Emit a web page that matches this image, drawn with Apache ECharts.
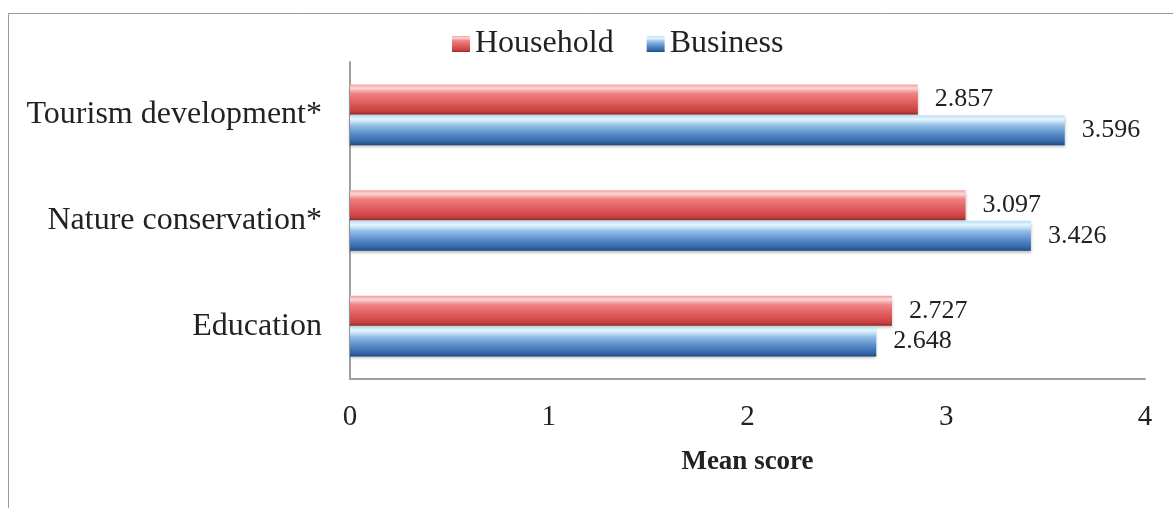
<!DOCTYPE html>
<html>
<head>
<meta charset="utf-8">
<script src="https://cdn.jsdelivr.net/npm/echarts@6/dist/echarts.min.js"></script>
<style>
  html, body { margin: 0; padding: 0; background: #fff; }
  #chart { width: 1173px; height: 508px; }
</style>
</head>
<body>
<div id="chart"></div>
<script>
// Categories listed bottom-to-top along the value axis
const categories = ['Education', 'Nature conservation*', 'Tourism development*'];
const household = [2.727, 3.097, 2.857];
const business = [2.648, 3.426, 3.596];
const xTicks = [0, 1, 2, 3, 4];

const FONT = '"Liberation Serif", "Times New Roman", serif';

function grad(stops) {
  return new echarts.graphic.LinearGradient(0, 0, 0, 1,
    stops.map(s => ({ offset: s[0], color: s[1] })));
}

const redFill = grad([
  [0, '#f2a0a0'], [0.12, '#fbd6d6'], [0.3, '#ef8181'],
  [0.65, '#de5858'], [0.9, '#c63f3f'], [1, '#8e2828']
]);
const blueFill = grad([
  [0, '#b8def5'], [0.14, '#e6f6fd'], [0.35, '#92bde6'],
  [0.68, '#4f83c3'], [0.9, '#3464a6'], [1, '#1d4676']
]);

const chart = echarts.init(document.getElementById('chart'));

const barCommon = {
  type: 'bar',
  barWidth: 30,
  barGap: '2%',
  label: {
    show: true,
    position: 'right',
    distance: 17,
    fontFamily: FONT,
    fontSize: 26,
    color: '#222',
    formatter: p => p.value.toFixed(3)
  }
};

chart.setOption({
  animation: false,
  backgroundColor: '#fff',
  graphic: [{
    type: 'rect',
    shape: { x: 8.5, y: 13.5, width: 3000, height: 3000 },
    style: { fill: 'none', stroke: '#9a9a9a', lineWidth: 1 },
    silent: true
  }],
  legend: {
    top: 28,
    left: 452,
    padding: 0,
    icon: 'rect',
    itemWidth: 18,
    itemHeight: 16,
    itemGap: 33,
    data: ['Household', 'Business'],
    textStyle: { fontFamily: FONT, fontSize: 32, color: '#222' }
  },
  grid: { left: 350, right: 28, top: 62, bottom: 129, containLabel: false },
  xAxis: {
    type: 'value',
    min: xTicks[0],
    max: xTicks[xTicks.length - 1],
    interval: 1,
    name: 'Mean score',
    nameLocation: 'middle',
    nameGap: 70,
    nameTextStyle: { fontFamily: FONT, fontSize: 27, fontWeight: 'bold', color: '#222' },
    axisLine: { show: true, lineStyle: { color: '#a0a0a0', width: 2 } },
    axisTick: { show: false },
    splitLine: { show: false },
    axisLabel: { fontFamily: FONT, fontSize: 29, color: '#222', margin: 24 }
  },
  yAxis: {
    type: 'category',
    data: categories,
    axisLine: { show: true, lineStyle: { color: '#a0a0a0', width: 2 } },
    axisTick: { show: false },
    axisLabel: { fontFamily: FONT, fontSize: 32, color: '#222', margin: 28 }
  },
  series: [
    Object.assign({}, barCommon, {
      name: 'Household',
      data: household,
      itemStyle: {
        color: redFill,
        shadowColor: 'rgba(0,0,0,0.25)', shadowBlur: 3, shadowOffsetY: 2
      }
    }),
    Object.assign({}, barCommon, {
      name: 'Business',
      data: business,
      itemStyle: {
        color: blueFill,
        shadowColor: 'rgba(0,0,0,0.3)', shadowBlur: 3, shadowOffsetY: 2
      }
    })
  ]
});
</script>
</body>
</html>
